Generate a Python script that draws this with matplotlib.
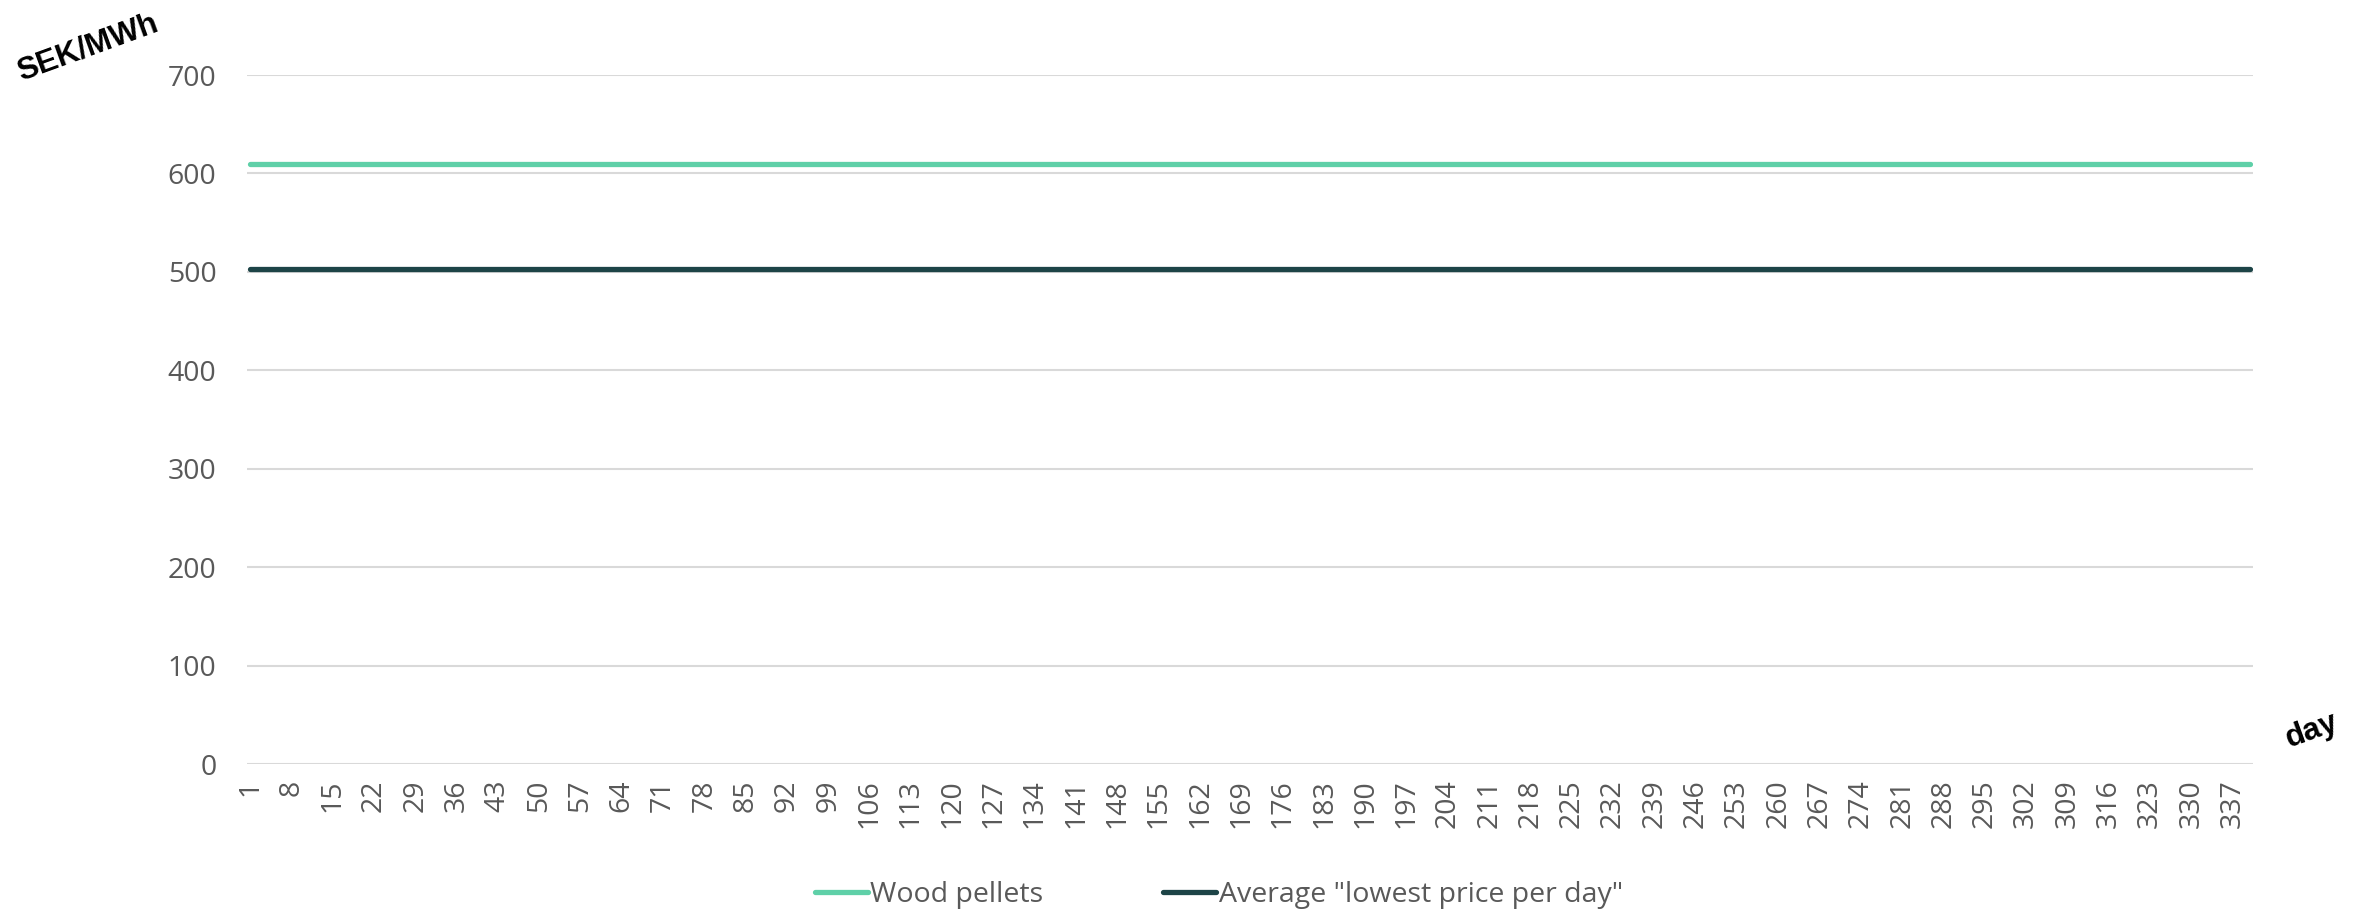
import numpy as np
import matplotlib.pyplot as plt

plt.rcParams['font.family'] = ['Open Sans', 'DejaVu Sans']

# Daten
days = list(range(1, 341))
wood_pellets = [610] * len(days)
avg_lowest = [503] * len(days)
tick_days = days[::7]
y_ticks = [0, 100, 200, 300, 400, 500, 600, 700]

fig = plt.figure(figsize=(23.62, 9.15), dpi=100)
ax = fig.add_axes([0.1046, 0.165, 0.8494, 0.753])

ax.plot(days, wood_pellets, color='#5fd0a8', lw=3.8, solid_capstyle='round',
        label='Wood pellets', zorder=3)
ax.plot(days, avg_lowest, color='#1d4447', lw=3.8, solid_capstyle='round',
        label='Average "lowest price per day"', zorder=3)

ax.set_xlim(0.5, 340.5)
ax.set_ylim(0, 700)
ax.set_yticks(y_ticks)
ax.set_xticks(tick_days)
ax.set_xticklabels([str(d) for d in tick_days], rotation=90)
ax.tick_params(axis='both', length=0, labelsize=20.5, colors='#595959')
ax.tick_params(axis='x', pad=11)
ax.tick_params(axis='y', pad=22)

ax.grid(axis='y', color='#d9d9d9', lw=1.5)
ax.set_axisbelow(True)
for s in ax.spines.values():
    s.set_visible(False)

fig.text(0.037, 0.948, 'SEK/MWh', rotation=20, fontsize=22.5, fontweight='bold',
         family='Liberation Sans', ha='center', va='center')
fig.text(0.979, 0.201, 'day', rotation=20, fontsize=22.5, fontweight='bold',
         family='Liberation Sans', ha='center', va='center')

leg = fig.legend(loc='center', bbox_to_anchor=(0.516, 0.022), ncol=2, frameon=False,
                 fontsize=20.5, handlelength=1.85, handletextpad=0.1, columnspacing=4.2)
for t in leg.get_texts():
    t.set_color('#595959')

fig.savefig('out.png', dpi=100)
